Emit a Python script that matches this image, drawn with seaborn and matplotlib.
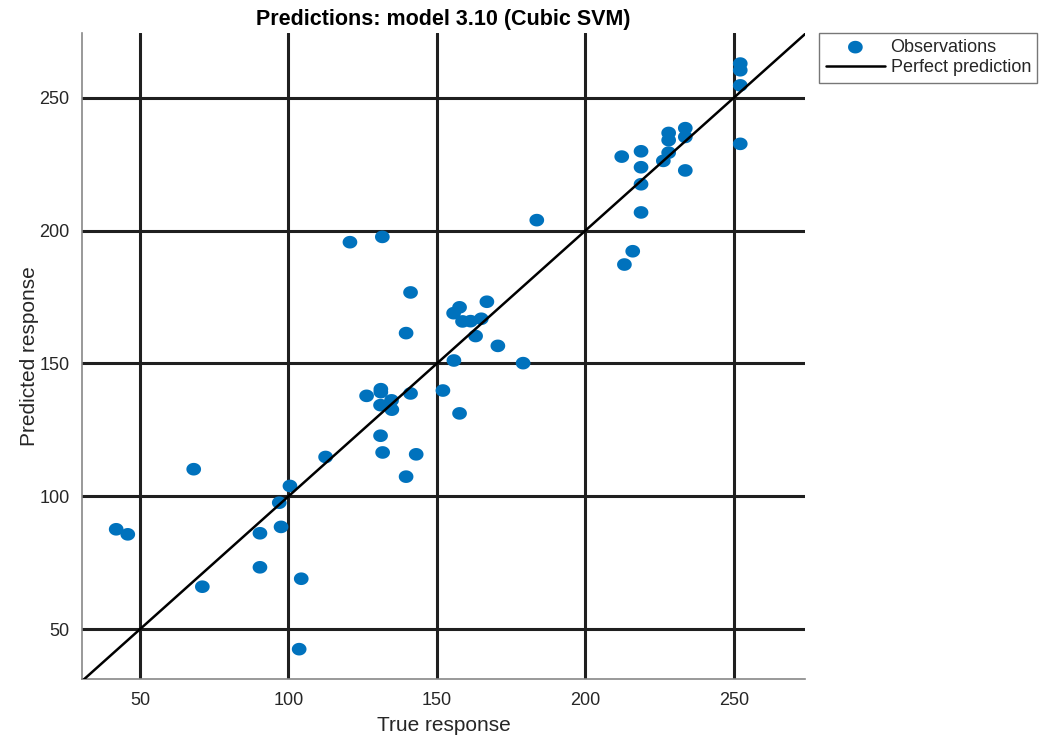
import matplotlib
matplotlib.use("Agg")
import matplotlib.pyplot as plt
from matplotlib.path import Path
import numpy as np
import seaborn as sns
import pandas as pd

# Observed (true) and model-predicted responses
true_response = [
    68.1, 100.5, 112.5, 96.9, 42.0, 45.9, 90.4, 97.5, 90.4, 71.0, 104.3, 103.6,
    120.7, 131.6, 183.6, 141.1, 139.6, 166.8, 157.6, 155.6, 158.6, 161.3, 164.9,
    163.0, 170.5, 155.7, 179.0, 152.0, 157.6, 131.1, 131.1, 126.3, 141.1, 134.7,
    131.0, 134.8, 131.0, 131.7, 143.0, 139.6,
    252.1, 252.1, 252.1, 252.1, 233.6, 233.6, 228.0, 228.0, 228.0, 226.2, 233.6,
    218.7, 212.2, 218.7, 218.7, 218.7, 215.9, 213.1,
]
predicted_response = [
    110.2, 103.9, 114.8, 97.6, 87.6, 85.7, 86.1, 88.5, 73.3, 66.0, 69.0, 42.5,
    195.6, 197.6, 203.9, 176.7, 161.4, 173.2, 171.1, 168.9, 165.8, 165.9, 166.8,
    160.3, 156.6, 151.1, 150.1, 139.8, 131.2, 140.3, 139.2, 137.8, 138.7, 136.1,
    134.3, 132.6, 122.8, 116.5, 115.8, 107.4,
    262.8, 260.3, 254.6, 232.6, 238.5, 235.2, 236.7, 234.0, 229.3, 226.2, 222.6,
    229.8, 227.8, 223.8, 217.4, 206.8, 192.2, 187.2,
]
ticks = [50, 100, 150, 200, 250]
x_range = [30.5, 273.9]
y_range = [31.1, 274.3]

df = pd.DataFrame({"True response": true_response,
                   "Predicted response": predicted_response})

# Slightly flattened dot marker
theta = np.linspace(0, 2 * np.pi, 60)
dot = Path(np.column_stack([np.cos(theta), 0.86 * np.sin(theta)]), closed=True)

sns.set_style("white")
plt.rcParams["font.family"] = ["Liberation Sans", "DejaVu Sans"]

fig = plt.figure(figsize=(10.49, 7.40), dpi=100)
ax = fig.add_axes([0.0782, 0.0818, 0.6892, 0.8736])

ax.grid(True, color="#1f1f1f", linewidth=2.2)
ax.set_axisbelow(True)

sns.scatterplot(data=df, x="True response", y="Predicted response", ax=ax,
                color="#0072BD", s=112, marker=dot, edgecolor="none",
                linewidth=0, label="Observations", zorder=3)

lo = min(x_range[0], y_range[0])
hi = max(x_range[1], y_range[1])
ax.plot([lo, hi], [lo, hi], color="black", linewidth=1.8,
        label="Perfect prediction", zorder=4)

ax.set_xlim(*x_range)
ax.set_ylim(*y_range)
ax.set_xticks(ticks)
ax.set_yticks(ticks)
ax.tick_params(axis="both", length=0, labelsize=13, colors="#262626", pad=9)

for side in ("top", "right"):
    ax.spines[side].set_visible(False)
for side in ("left", "bottom"):
    ax.spines[side].set_color("#888888")
    ax.spines[side].set_linewidth(1.2)

ax.set_xlabel("True response", fontsize=15, color="#262626", labelpad=5)
ax.set_ylabel("Predicted response", fontsize=15, color="#262626", labelpad=0)
ax.set_title("Predictions: model 3.10 (Cubic SVM)", fontsize=15.5,
             fontweight="bold", color="black", pad=6)

leg = ax.legend(loc="upper left", bbox_to_anchor=(0.781, 0.956),
                bbox_transform=fig.transFigure, fontsize=13, frameon=True,
                fancybox=False, edgecolor="#555555", borderpad=0.35,
                handlelength=3.3, handletextpad=0.3, labelspacing=0.2,
                borderaxespad=0)
leg.get_frame().set_linewidth(1.0)

fig.savefig("out.png", dpi=100)
